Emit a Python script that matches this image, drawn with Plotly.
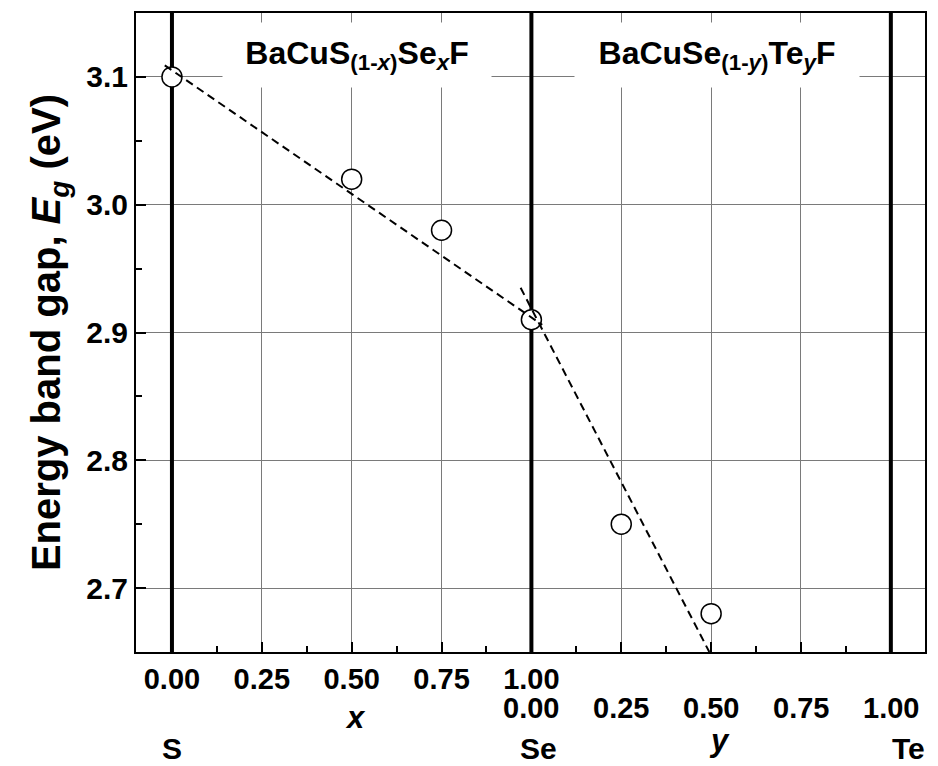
import numpy as np
import plotly.graph_objects as go

# composition (0..1 = x in BaCuS(1-x)SexF, 1..2 = 1+y in BaCuSe(1-y)TeyF)
comp = [0.0, 0.5, 0.75, 1.0, 1.25, 1.5]
eg = [3.10, 3.02, 2.98, 2.91, 2.75, 2.68]

fit1_x = [-0.02, 1.03]
fit1_y = [3.109, 2.906]
fit2_x = [0.97, 1.495]
fit2_y = [2.935, 2.650]

xtick_vals = [0, 0.25, 0.5, 0.75, 1.0, 1.25, 1.5, 1.75, 2.0]
xtick_text = ["0.00", "0.25", "0.50", "0.75", "1.00", "", "", "", ""]
y_tick_labels_2 = ["0.00", "0.25", "0.50", "0.75", "1.00"]
y_tick_pos_2 = [1.0, 1.25, 1.5, 1.75, 2.0]
endmembers = ["S", "Se", "Te"]
endmember_pos = [0.0, 1.02, 2.05]
boundaries = [0.0, 1.0, 2.0]
ytick_vals = [2.7, 2.8, 2.9, 3.0, 3.1]
Y_RANGE = [2.65, 3.15]

FONT = "Liberation Sans"

fig = go.Figure()

# thick boundary lines at pure end members
for b in boundaries:
    fig.add_trace(go.Scatter(x=[b, b], y=Y_RANGE, mode="lines",
                             line=dict(color="black", width=4),
                             showlegend=False, hoverinfo="skip"))

fig.add_trace(go.Scatter(
    x=comp, y=eg, mode="markers",
    marker=dict(symbol="circle", size=20, color="white",
                line=dict(color="black", width=1.5)),
    showlegend=False, cliponaxis=False))

for fx, fy in [(fit1_x, fit1_y), (fit2_x, fit2_y)]:
    fig.add_trace(go.Scatter(
        x=fx, y=fy, mode="lines",
        line=dict(color="black", width=2, dash="8px,5px"),
        showlegend=False))

# composition labels in boxes
fig.add_annotation(x=0.515, y=3.117, xref="x", yref="y",
                   text="<b>BaCuS<sub>(1-<i>x</i>)</sub>Se<sub><i>x</i></sub>F</b>",
                   showarrow=False, bgcolor="white", width=266, height=62,
                   font=dict(family=FONT, size=32, color="black"))
fig.add_annotation(x=1.515, y=3.117, xref="x", yref="y",
                   text="<b>BaCuSe<sub>(1-<i>y</i>)</sub>Te<sub><i>y</i></sub>F</b>",
                   showarrow=False, bgcolor="white", width=282, height=62,
                   font=dict(family=FONT, size=32, color="black"))

# second row of tick labels (y scale)
for v, t in zip(y_tick_pos_2, y_tick_labels_2):
    fig.add_annotation(x=v, y=-0.088, xref="x", yref="paper", text="<b>%s</b>" % t,
                       showarrow=False, yanchor="middle",
                       font=dict(family=FONT, size=29, color="black"))

fig.add_annotation(x=0.51, y=-0.102, xref="x", yref="paper", text="<b><i>x</i></b>",
                   showarrow=False, yanchor="middle",
                   font=dict(family=FONT, size=31, color="black"))
fig.add_annotation(x=1.523, y=-0.138, xref="x", yref="paper", text="<b><i>y</i></b>",
                   showarrow=False, yanchor="middle",
                   font=dict(family=FONT, size=31, color="black"))
for p, t in zip(endmember_pos, endmembers):
    fig.add_annotation(x=p, y=-0.151, xref="x", yref="paper", text="<b>%s</b>" % t,
                       showarrow=False, yanchor="middle",
                       font=dict(family=FONT, size=30, color="black"))

fig.update_xaxes(
    range=[-0.1, 2.095], tickmode="array", tickvals=xtick_vals, ticktext=xtick_text,
    ticks="inside", ticklen=10, tickwidth=1.5, tickcolor="black",
    showgrid=True, gridcolor="#7a7a7a", gridwidth=1,
    showline=True, linecolor="black", linewidth=2, mirror=True,
    zeroline=False,
    tickfont=dict(family=FONT, size=29, color="black", weight="bold"),
    minor=dict(tickmode="array", tickvals=list(np.arange(0.125, 2.0, 0.25)),
               ticks="inside", ticklen=6, tickwidth=1.5, tickcolor="black", showgrid=False),
)
fig.update_yaxes(
    range=Y_RANGE, tickmode="array", tickvals=ytick_vals,
    ticktext=["%.1f" % v for v in ytick_vals],
    ticks="inside", ticklen=10, tickwidth=1.5, tickcolor="black",
    showgrid=True, gridcolor="#7a7a7a", gridwidth=1,
    showline=True, linecolor="black", linewidth=2, mirror=True,
    zeroline=False,
    tickfont=dict(family=FONT, size=30, color="black", weight="bold"),
    minor=dict(tickmode="array", tickvals=list(np.arange(2.75, 3.15, 0.1)),
               ticks="inside", ticklen=6, tickwidth=1.5, tickcolor="black", showgrid=False),
    title=dict(text="<b>Energy band gap, <i>E</i><sub><i>g</i></sub> (eV)</b>",
               font=dict(family=FONT, size=40, color="black"), standoff=13),
)

fig.update_layout(
    width=938, height=766,
    margin=dict(l=136, r=11, t=13, b=114),
    paper_bgcolor="white", plot_bgcolor="white",
    showlegend=False,
)

fig.write_html("out.html")
